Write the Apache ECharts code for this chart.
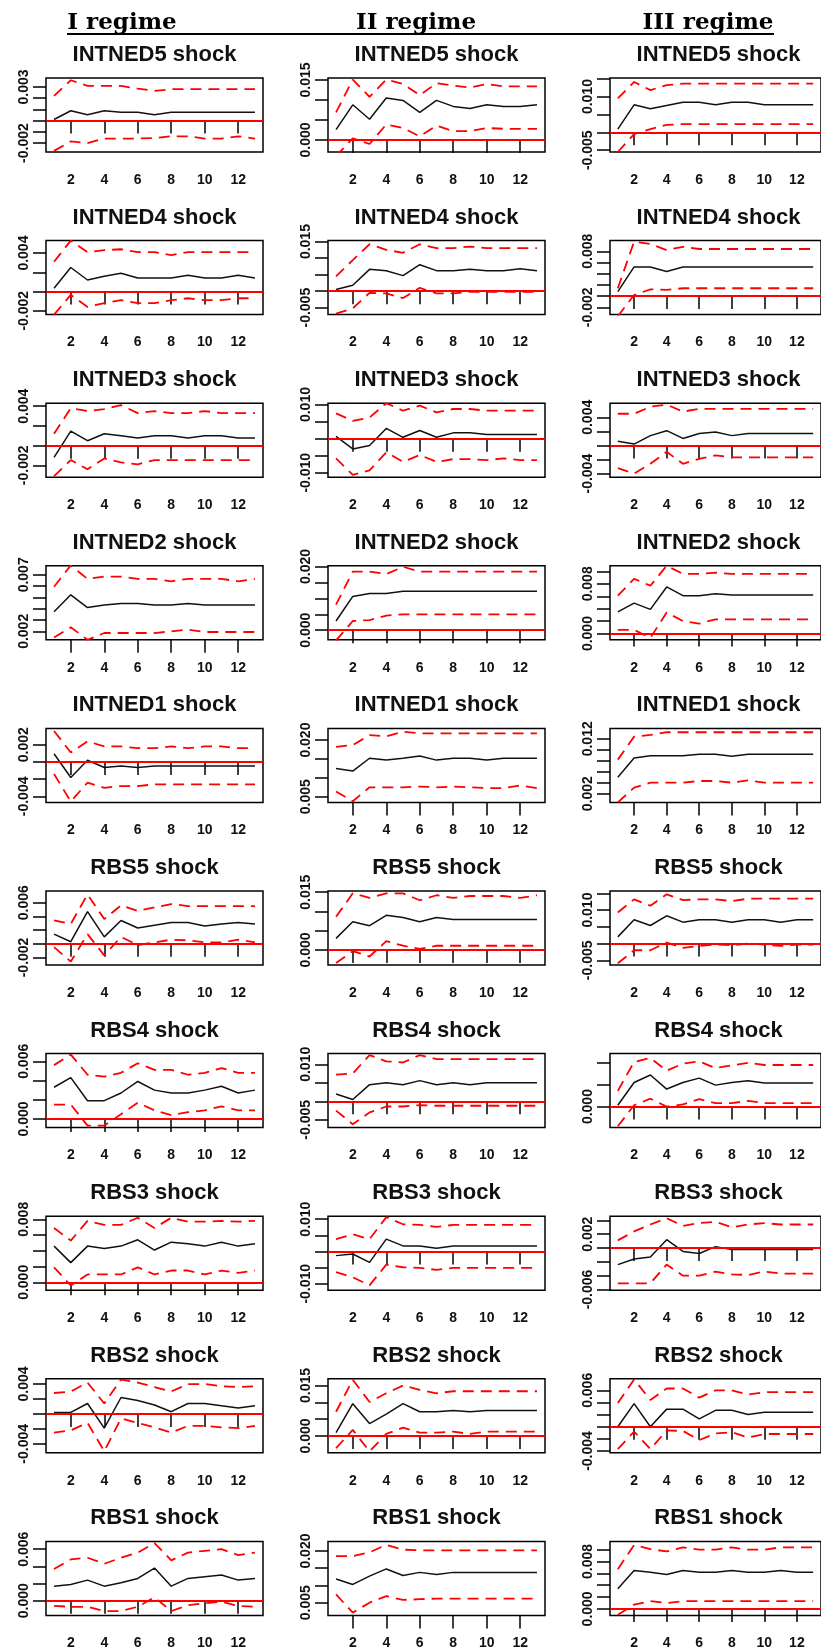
<!DOCTYPE html>
<html>
<head>
    <meta charset="utf-8">
    <title>IRF by regime</title>
    <script src="https://cdn.jsdelivr.net/npm/echarts@6/dist/echarts.min.js"></script>
    <style>
        body { margin: 0; background: #fff; overflow: hidden; }
        #main { width: 821px; height: 1652px; }
    </style>
</head>
<body>
    <div id="main"></div>
    <script type="text/javascript">
        // shocks (rows) and regimes (columns)
        var shocks = ['INTNED5', 'INTNED4', 'INTNED3', 'INTNED2', 'INTNED1', 'RBS5', 'RBS4', 'RBS3', 'RBS2', 'RBS1'];
        var regimes = ['I regime', 'II regime', 'III regime'];
        var horizon = [1, 2, 3, 4, 5, 6, 7, 8, 9, 10, 11, 12, 13];
        var xTicks = [2, 4, 6, 8, 10, 12];

        // ---- I regime ----
        var irf_I = [
            [0.0001, 0.00088, 0.00053, 0.00088, 0.00074, 0.00074, 0.00053, 0.00074, 0.00074, 0.00074, 0.00074, 0.00074, 0.00074],
            [0.00035, 0.0025, 0.0012, 0.0016, 0.0019, 0.0014, 0.0014, 0.0014, 0.0017, 0.0014, 0.0014, 0.0017, 0.0014],
            [-0.0012, 0.00146, 0.0005, 0.0012, 0.001, 0.00077, 0.001, 0.001, 0.00077, 0.001, 0.001, 0.00077, 0.00077],
            [0.00374, 0.00523, 0.0041, 0.00434, 0.00446, 0.00446, 0.00434, 0.00434, 0.00446, 0.00434, 0.00434, 0.00434, 0.00434],
            [0.00096, -0.0018, 0.0002, -0.00065, -0.00046, -0.00065, -0.00046, -0.00046, -0.00046, -0.00046, -0.00046, -0.00046, -0.00046],
            [0.0014, 0.0003, 0.0047, 0.001, 0.0034, 0.0023, 0.0027, 0.0031, 0.0031, 0.0026, 0.0029, 0.0031, 0.0029],
            [0.0033, 0.0043, 0.0019, 0.0019, 0.0027, 0.0039, 0.003, 0.0027, 0.0027, 0.003, 0.0034, 0.0027, 0.003],
            [0.0046, 0.0025, 0.0046, 0.0043, 0.0046, 0.0054, 0.0041, 0.0051, 0.0049, 0.0046, 0.0051, 0.0046, 0.0049],
            [0.0002, 0.0002, 0.0014, -0.0019, 0.0022, 0.0018, 0.0012, 0.0003, 0.0014, 0.0014, 0.0011, 0.0008, 0.0011],
            [0.0017, 0.0019, 0.0024, 0.0017, 0.0021, 0.0026, 0.0038, 0.0017, 0.0026, 0.0028, 0.003, 0.0024, 0.0026]
        ];
        var up_I = [
            [0.0022, 0.0036, 0.0031, 0.0031, 0.0031, 0.00285, 0.00265, 0.0028, 0.0028, 0.0028, 0.0028, 0.0028, 0.0028],
            [0.0031, 0.0053, 0.0041, 0.0043, 0.0044, 0.0041, 0.0041, 0.0038, 0.0041, 0.0041, 0.0041, 0.0041, 0.0041],
            [0.0012, 0.0038, 0.0035, 0.0037, 0.0041, 0.0033, 0.0035, 0.0033, 0.0033, 0.0035, 0.0033, 0.0033, 0.0033],
            [0.00595, 0.00784, 0.00664, 0.00685, 0.00685, 0.00664, 0.00664, 0.00643, 0.00664, 0.00664, 0.00664, 0.00643, 0.00664],
            [0.0036, 0.0011, 0.0024, 0.0018, 0.0018, 0.0016, 0.0016, 0.0018, 0.0016, 0.0018, 0.0018, 0.0016, 0.0016],
            [0.0034, 0.0029, 0.0072, 0.0036, 0.0056, 0.0048, 0.0053, 0.0058, 0.0055, 0.0055, 0.0055, 0.0055, 0.0055],
            [0.0056, 0.0067, 0.0046, 0.0044, 0.0048, 0.0058, 0.0051, 0.0051, 0.0046, 0.0048, 0.0053, 0.0048, 0.0048],
            [0.0069, 0.0053, 0.0078, 0.0073, 0.0073, 0.0082, 0.0069, 0.0082, 0.0077, 0.0077, 0.0078, 0.0077, 0.0078],
            [0.0028, 0.003, 0.0042, 0.0014, 0.0046, 0.0042, 0.0036, 0.003, 0.004, 0.004, 0.0037, 0.0036, 0.0037],
            [0.0037, 0.0048, 0.005, 0.0043, 0.005, 0.0056, 0.0067, 0.0047, 0.0056, 0.0058, 0.006, 0.0053, 0.0056]
        ];
        var lo_I = [
            [-0.0027, -0.00185, -0.002, -0.0016, -0.0016, -0.0016, -0.00156, -0.0014, -0.0014, -0.0016, -0.0016, -0.0014, -0.0016],
            [-0.0024, -0.00035, -0.0016, -0.0012, -0.0009, -0.0012, -0.0012, -0.0009, -0.0007, -0.0009, -0.0009, -0.0007, -0.0007],
            [-0.0031, -0.00146, -0.0024, -0.0013, -0.0017, -0.0019, -0.00146, -0.00146, -0.00146, -0.00146, -0.00146, -0.00146, -0.00146],
            [0.00146, 0.00236, 0.00125, 0.00185, 0.00185, 0.00185, 0.00185, 0.002, 0.00215, 0.00194, 0.00194, 0.00194, 0.00194],
            [-0.0014, -0.0046, -0.0024, -0.003, -0.0028, -0.0028, -0.0026, -0.0026, -0.0026, -0.0026, -0.0026, -0.0026, -0.0026],
            [-0.0005, -0.0026, 0.0014, -0.0017, 0.001, -0.0002, 0.0002, 0.0006, 0.0005, 0.0002, 0.0002, 0.0006, 0.0002],
            [0.0015, 0.0015, -0.0007, -0.0007, 0.0005, 0.0017, 0.0009, 0.0004, 0.0007, 0.0009, 0.0013, 0.0009, 0.0009],
            [0.0019, -0.0004, 0.001, 0.001, 0.001, 0.0019, 0.001, 0.0015, 0.0015, 0.001, 0.0015, 0.0012, 0.0015],
            [-0.0025, -0.0022, -0.0012, -0.005, -0.0006, -0.0012, -0.0018, -0.0025, -0.0016, -0.0016, -0.0018, -0.0019, -0.0016],
            [-0.0006, -0.0007, -0.0007, -0.0012, -0.0012, -0.0007, 0.0004, -0.0012, -0.0005, -0.0003, -0.0001, -0.0006, -0.0007]
        ];
        var range_I = [[-0.0028, 0.0038], [-0.0024, 0.0053], [-0.0032, 0.0043], [0.00125, 0.0078], [-0.0047, 0.0039],
                       [-0.0031, 0.0077], [-0.0009, 0.0068], [-0.001, 0.0084], [-0.0052, 0.0047], [-0.0017, 0.0069]];
        var ticks_I = [[-0.002, -0.001, 0, 0.001, 0.002, 0.003], [-0.002, 0, 0.002, 0.004], [-0.002, 0, 0.002, 0.004],
                       [0.002, 0.003, 0.004, 0.005, 0.006, 0.007], [-0.004, -0.002, 0, 0.002], [-0.002, 0, 0.002, 0.004, 0.006],
                       [0, 0.002, 0.004, 0.006], [0, 0.002, 0.004, 0.006, 0.008], [-0.004, -0.002, 0, 0.002, 0.004], [0, 0.002, 0.004, 0.006]];
        var labels_I = [[-0.002, 0.003], [-0.002, 0.004], [-0.002, 0.004], [0.002, 0.007], [-0.004, 0.002],
                        [-0.002, 0.006], [0, 0.006], [0, 0.008], [-0.004, 0.004], [0, 0.006]];

        // ---- II regime ----
        var irf_II = [
            [0.0026, 0.0088, 0.0052, 0.0105, 0.0099, 0.0069, 0.0099, 0.0084, 0.0079, 0.0088, 0.0084, 0.0084, 0.0088],
            [0.0005, 0.0018, 0.0066, 0.0062, 0.0047, 0.008, 0.0062, 0.0062, 0.0066, 0.0062, 0.0062, 0.0068, 0.0062],
            [0.0007, -0.003, -0.002, 0.003, 0.0004, 0.0024, 0.0004, 0.0017, 0.0017, 0.0012, 0.0012, 0.0012, 0.0012],
            [0.0029, 0.0106, 0.0115, 0.0115, 0.0122, 0.0122, 0.0122, 0.0122, 0.0122, 0.0122, 0.0122, 0.0122, 0.0122],
            [0.0125, 0.0118, 0.0152, 0.0147, 0.0152, 0.0158, 0.0147, 0.0152, 0.0152, 0.0147, 0.0152, 0.0152, 0.0152],
            [0.003, 0.0073, 0.0063, 0.009, 0.0084, 0.0073, 0.0084, 0.0079, 0.0079, 0.0079, 0.0079, 0.0079, 0.0079],
            [0.002, 0.0005, 0.0045, 0.005, 0.0045, 0.0056, 0.0045, 0.005, 0.0045, 0.005, 0.005, 0.005, 0.005],
            [-0.0013, -0.0008, -0.0034, 0.0038, 0.0017, 0.0017, 0.001, 0.0017, 0.0017, 0.0017, 0.0017, 0.0017, 0.0017],
            [0.001, 0.0096, 0.0037, 0.0065, 0.0096, 0.0072, 0.0072, 0.0076, 0.0072, 0.0076, 0.0076, 0.0076, 0.0076],
            [0.0119, 0.0103, 0.0127, 0.0148, 0.0129, 0.0138, 0.0132, 0.0138, 0.0138, 0.0138, 0.0138, 0.0138, 0.0138]
        ];
        var up_II = [
            [0.0069, 0.0151, 0.0108, 0.0151, 0.014, 0.0112, 0.0142, 0.0136, 0.0131, 0.014, 0.0134, 0.0134, 0.0134],
            [0.0045, 0.0094, 0.0142, 0.0125, 0.0116, 0.0142, 0.013, 0.013, 0.0135, 0.013, 0.013, 0.013, 0.013],
            [0.0074, 0.0052, 0.0062, 0.0104, 0.0082, 0.0097, 0.0077, 0.0087, 0.0087, 0.0082, 0.0082, 0.0082, 0.0082],
            [0.008, 0.0184, 0.0184, 0.0176, 0.0199, 0.0184, 0.0184, 0.0184, 0.0184, 0.0184, 0.0184, 0.0184, 0.0184],
            [0.0182, 0.0187, 0.0213, 0.021, 0.0222, 0.0218, 0.0218, 0.0218, 0.0218, 0.0218, 0.0218, 0.0218, 0.0218],
            [0.0086, 0.0147, 0.0135, 0.0147, 0.0147, 0.0129, 0.0142, 0.0135, 0.014, 0.014, 0.014, 0.0135, 0.0142],
            [0.0072, 0.0075, 0.0125, 0.0108, 0.0105, 0.0125, 0.0114, 0.0114, 0.0114, 0.0114, 0.0114, 0.0114, 0.0114],
            [0.0038, 0.0053, 0.0038, 0.0106, 0.0084, 0.0082, 0.0076, 0.0082, 0.0082, 0.0082, 0.0082, 0.0082, 0.0082],
            [0.0072, 0.0167, 0.0101, 0.0127, 0.015, 0.0137, 0.0127, 0.0133, 0.0133, 0.0133, 0.0133, 0.0133, 0.0133],
            [0.0185, 0.0185, 0.0196, 0.0218, 0.0204, 0.0202, 0.0202, 0.0202, 0.0202, 0.0202, 0.0202, 0.0202, 0.0202]
        ];
        var lo_II = [
            [-0.004, 0.0004, -0.001, 0.0039, 0.003, 0.0009, 0.0036, 0.0022, 0.0022, 0.003, 0.0028, 0.0028, 0.0028],
            [-0.0068, -0.0052, -0.0005, -0.0007, -0.0021, 0.001, -0.0007, -0.0007, -0.0002, -0.0002, -0.0002, -0.0002, -0.0002],
            [-0.0058, -0.0106, -0.0093, -0.004, -0.0068, -0.0048, -0.0068, -0.006, -0.006, -0.0063, -0.0058, -0.0063, -0.0063],
            [-0.0032, 0.0029, 0.0032, 0.0046, 0.005, 0.005, 0.005, 0.005, 0.005, 0.005, 0.005, 0.005, 0.005],
            [0.0064, 0.0038, 0.0075, 0.0075, 0.0075, 0.0077, 0.0075, 0.0077, 0.0075, 0.0073, 0.0073, 0.008, 0.0073],
            [-0.0034, -0.0003, -0.0017, 0.0023, 0.0011, 0.0003, 0.0011, 0.0011, 0.0011, 0.0011, 0.0011, 0.0011, 0.0011],
            [-0.0025, -0.0062, -0.003, -0.0014, -0.0014, -0.001, -0.0012, -0.0012, -0.0012, -0.0012, -0.0012, -0.0012, -0.0012],
            [-0.0064, -0.008, -0.0105, -0.0041, -0.0049, -0.0051, -0.0057, -0.0051, -0.0051, -0.0051, -0.0051, -0.0051, -0.0051],
            [-0.0036, 0.0018, -0.0046, 0.0006, 0.0025, 0.001, 0.001, 0.0013, 0.0006, 0.0013, 0.0013, 0.0013, 0.0013],
            [0.0074, 0.0021, 0.005, 0.0069, 0.0058, 0.006, 0.0062, 0.0062, 0.0062, 0.0062, 0.0062, 0.0062, 0.0062]
        ];
        var range_II = [[-0.003, 0.0155], [-0.0071, 0.0153], [-0.0113, 0.0104], [-0.003, 0.0202], [0.0035, 0.0231],
                        [-0.0039, 0.0153], [-0.0071, 0.0129], [-0.012, 0.0109], [-0.005, 0.017], [0.0013, 0.0228]];
        var ticks_II = [[0, 0.005, 0.01, 0.015], [-0.005, 0, 0.005, 0.01, 0.015], [-0.01, -0.005, 0, 0.005, 0.01],
                        [0, 0.005, 0.01, 0.015, 0.02], [0.005, 0.01, 0.015, 0.02], [0, 0.005, 0.01, 0.015],
                        [-0.005, 0, 0.005, 0.01], [-0.01, -0.005, 0, 0.005, 0.01], [0, 0.005, 0.01, 0.015], [0.005, 0.01, 0.015, 0.02]];
        var labels_II = [[0, 0.015], [-0.005, 0.015], [-0.01, 0.01], [0, 0.02], [0.005, 0.02],
                         [0, 0.015], [-0.005, 0.01], [-0.01, 0.01], [0, 0.015], [0.005, 0.02]];

        // ---- III regime ----
        var irf_III = [
            [0.0009, 0.0077, 0.0066, 0.0075, 0.0084, 0.0084, 0.0077, 0.0084, 0.0084, 0.0077, 0.0077, 0.0077, 0.0077],
            [0.0008, 0.0052, 0.0052, 0.0044, 0.0052, 0.0052, 0.0052, 0.0052, 0.0052, 0.0052, 0.0052, 0.0052, 0.0052],
            [0.0006, 0.0002, 0.0014, 0.0021, 0.001, 0.0017, 0.0019, 0.0014, 0.0017, 0.0017, 0.0017, 0.0017, 0.0017],
            [0.0035, 0.0049, 0.0039, 0.0075, 0.0061, 0.0061, 0.0064, 0.0062, 0.0062, 0.0062, 0.0062, 0.0062, 0.0062],
            [0.005, 0.0085, 0.0089, 0.0089, 0.0089, 0.0092, 0.0092, 0.0088, 0.0092, 0.0092, 0.0092, 0.0092, 0.0092],
            [0.002, 0.0071, 0.0054, 0.0083, 0.0064, 0.0071, 0.0071, 0.0064, 0.0071, 0.0071, 0.0064, 0.0071, 0.0071],
            [0.0003, 0.0055, 0.0072, 0.004, 0.0055, 0.0065, 0.0049, 0.0055, 0.0059, 0.0054, 0.0054, 0.0054, 0.0054],
            [-0.0024, -0.0016, -0.0013, 0.0012, -0.0005, -0.0008, 0.0002, -0.0002, -0.0002, -0.0002, -0.0002, -0.0002, -0.0002],
            [0, 0.0038, 0, 0.0029, 0.0029, 0.0013, 0.0027, 0.0027, 0.002, 0.0024, 0.0024, 0.0024, 0.0024],
            [0.0034, 0.0065, 0.0062, 0.0058, 0.0065, 0.0062, 0.0062, 0.0065, 0.0062, 0.0062, 0.0065, 0.0062, 0.0062]
        ];
        var up_III = [
            [0.0095, 0.0141, 0.0118, 0.0132, 0.0136, 0.0136, 0.0136, 0.0136, 0.0136, 0.0136, 0.0136, 0.0136, 0.0136],
            [0.0014, 0.0097, 0.0093, 0.0082, 0.0088, 0.0084, 0.0084, 0.0084, 0.0084, 0.0084, 0.0084, 0.0084, 0.0084],
            [0.0045, 0.0045, 0.0055, 0.0058, 0.0048, 0.0052, 0.0052, 0.0052, 0.0052, 0.0052, 0.0052, 0.0052, 0.0052],
            [0.0061, 0.0088, 0.0077, 0.0109, 0.0096, 0.0096, 0.0098, 0.0096, 0.0096, 0.0096, 0.0096, 0.0096, 0.0096],
            [0.0082, 0.0124, 0.0127, 0.0132, 0.0132, 0.0132, 0.0132, 0.0132, 0.0132, 0.0132, 0.0132, 0.0132, 0.0132],
            [0.0093, 0.0132, 0.0113, 0.0147, 0.013, 0.0132, 0.0132, 0.0127, 0.0134, 0.0134, 0.0134, 0.0134, 0.0134],
            [0.0036, 0.0102, 0.0111, 0.0082, 0.0098, 0.0103, 0.0088, 0.0094, 0.01, 0.0095, 0.0095, 0.0095, 0.0095],
            [0.0011, 0.0024, 0.0034, 0.0043, 0.0032, 0.0036, 0.0038, 0.003, 0.0034, 0.0036, 0.0034, 0.0034, 0.0034],
            [0.0039, 0.0078, 0.0044, 0.0063, 0.0063, 0.0048, 0.006, 0.006, 0.0053, 0.0057, 0.0057, 0.0057, 0.0057],
            [0.0067, 0.0108, 0.0101, 0.0097, 0.0104, 0.01, 0.01, 0.0104, 0.01, 0.01, 0.0104, 0.0104, 0.0104]
        ];
        var lo_III = [
            [-0.0055, -0.0005, 0.0009, 0.0021, 0.0023, 0.0023, 0.0023, 0.0023, 0.0023, 0.0023, 0.0023, 0.0023, 0.0023],
            [-0.0036, 0.0002, 0.0012, 0.0011, 0.0014, 0.0014, 0.0014, 0.0014, 0.0014, 0.0014, 0.0014, 0.0014, 0.0014],
            [-0.0032, -0.004, -0.0026, -0.0009, -0.0026, -0.0019, -0.0014, -0.0017, -0.0017, -0.0017, -0.0017, -0.0017, -0.0017],
            [0.0006, 0.0006, -0.0007, 0.0034, 0.002, 0.0016, 0.0023, 0.0023, 0.0023, 0.0023, 0.0023, 0.0023, 0.0023],
            [0.0004, 0.0031, 0.004, 0.004, 0.004, 0.0043, 0.0043, 0.004, 0.0044, 0.004, 0.004, 0.004, 0.004],
            [-0.0059, -0.002, -0.002, 0.0003, -0.0013, -0.0007, -0.0003, -0.0005, 0, -0.0003, -0.0007, -0.0003, -0.0003],
            [-0.0045, 0.0003, 0.0018, 0, 0.0005, 0.0017, 0.0008, 0.0008, 0.0013, 0.0008, 0.0008, 0.0008, 0.0008],
            [-0.0051, -0.0051, -0.0051, -0.0024, -0.004, -0.004, -0.0034, -0.0038, -0.0039, -0.0034, -0.0037, -0.0037, -0.0037],
            [-0.0037, -0.0008, -0.0037, -0.0006, -0.0007, -0.0022, -0.0011, -0.0009, -0.0018, -0.0012, -0.0012, -0.0012, -0.0012],
            [-0.001, 0.0007, 0.0013, 0.001, 0.0013, 0.0013, 0.0013, 0.0013, 0.0013, 0.0013, 0.0013, 0.0013, 0.0013]
        ];
        var range_III = [[-0.0055, 0.0152], [-0.0033, 0.0099], [-0.0045, 0.006], [-0.001, 0.0109], [0.0004, 0.0139],
                         [-0.0064, 0.0157], [-0.0048, 0.0121], [-0.0061, 0.0046], [-0.0043, 0.0079], [-0.0011, 0.0114]];
        var ticks_III = [[-0.005, 0, 0.005, 0.01, 0.015], [-0.002, 0, 0.002, 0.004, 0.006, 0.008], [-0.004, -0.002, 0, 0.002, 0.004],
                         [0, 0.002, 0.004, 0.006, 0.008, 0.01], [0.002, 0.004, 0.006, 0.008, 0.01, 0.012], [-0.005, 0, 0.005, 0.01, 0.015],
                         [0, 0.005, 0.01], [-0.006, -0.004, -0.002, 0, 0.002, 0.004], [-0.004, -0.002, 0, 0.002, 0.004, 0.006],
                         [0, 0.002, 0.004, 0.006, 0.008, 0.01]];
        var labels_III = [[-0.005, 0.01], [-0.002, 0.008], [-0.004, 0.004], [0, 0.008], [0.002, 0.012],
                          [-0.005, 0.01], [0], [-0.006, 0.002], [-0.004, 0.006], [0, 0.008]];

        var irfs = [irf_I, irf_II, irf_III];
        var ups = [up_I, up_II, up_III];
        var los = [lo_I, lo_II, lo_III];
        var ranges = [range_I, range_II, range_III];
        var yticks = [ticks_I, ticks_II, ticks_III];
        var ylabels = [labels_I, labels_II, labels_III];

        // layout (px)
        var colLeft = [46, 328, 610];
        var boxW = 217, boxH = 74;
        var rowTop = 78, rowPitch = 162.6;
        var headerX = [122, 416, 708];

        var myChart = echarts.init(document.getElementById('main'));

        function pairs(arr) {
            return horizon.map(function (h, j) { return [h, arr[j]]; });
        }

        var grids = [], xAxes = [], yAxes = [], series = [], graphics = [];

        regimes.forEach(function (name, c) {
            graphics.push({
                type: 'text', x: headerX[c], y: 23,
                style: { text: name, fill: '#000', font: 'bold 23px "DejaVu Serif"', align: 'center', verticalAlign: 'middle' }
            });
        });
        graphics.push({
            type: 'line', shape: { x1: 67, y1: 34, x2: 774, y2: 34 },
            style: { stroke: '#000', lineWidth: 2 }
        });

        shocks.forEach(function (shock, r) {
            for (var c = 0; c < 3; c++) {
                var i = grids.length;
                var top = rowTop + r * rowPitch;
                var yr = ranges[c][r];
                grids.push({
                    left: colLeft[c], top: top, width: boxW, height: boxH,
                    show: true, borderColor: '#000', borderWidth: 1.5, backgroundColor: '#fff'
                });
                graphics.push({
                    type: 'text', x: colLeft[c] + boxW / 2, y: top - 23,
                    style: { text: shock + ' shock', fill: '#111', font: 'bold 22px "Liberation Sans"', align: 'center', verticalAlign: 'middle' }
                });
                xAxes.push({
                    gridIndex: i, type: 'value', min: 0.52, max: 13.48,
                    axisLine: { show: false }, splitLine: { show: false },
                    axisTick: { show: true, inside: false, length: 13, customValues: xTicks, lineStyle: { color: '#000', width: 1.5 } },
                    axisLabel: { customValues: xTicks, margin: 21, color: '#111', fontSize: 14, fontWeight: 'bold', fontFamily: 'Liberation Sans' }
                });
                yAxes.push({
                    gridIndex: i, type: 'value', min: yr[0], max: yr[1],
                    axisLine: { show: false }, splitLine: { show: false },
                    axisTick: { show: true, inside: false, length: 13, customValues: yticks[c][r], lineStyle: { color: '#000', width: 1.5 } },
                    axisLabel: {
                        customValues: ylabels[c][r], rotate: 90, margin: 15, color: '#111',
                        fontSize: 14, fontWeight: 'bold', fontFamily: 'Liberation Sans',
                        formatter: function (v) { return Number(v).toFixed(3); }
                    }
                });
                var zeroIn = yr[0] < 0 && yr[1] > 0;
                series.push({
                    type: 'line', xAxisIndex: i, yAxisIndex: i, data: pairs(ups[c][r]),
                    symbol: 'none', z: 2, silent: true,
                    lineStyle: { color: '#ff0000', width: 1.8, type: [11, 7] },
                    markLine: zeroIn ? {
                        silent: true, symbol: 'none', label: { show: false },
                        lineStyle: { color: '#ff0000', width: 2.2, type: 'solid' },
                        data: [{ yAxis: 0 }]
                    } : undefined
                });
                series.push({
                    type: 'line', xAxisIndex: i, yAxisIndex: i, data: pairs(los[c][r]),
                    symbol: 'none', z: 2, silent: true,
                    lineStyle: { color: '#ff0000', width: 1.8, type: [11, 7] }
                });
                series.push({
                    type: 'line', xAxisIndex: i, yAxisIndex: i, data: pairs(irfs[c][r]),
                    symbol: 'none', z: 3, silent: true,
                    lineStyle: { color: '#111', width: 1.5 }
                });
            }
        });

        var option = {
            animation: false,
            backgroundColor: '#fff',
            grid: grids,
            xAxis: xAxes,
            yAxis: yAxes,
            series: series,
            graphic: graphics
        };
        myChart.setOption(option);
    </script>
</body>
</html>
